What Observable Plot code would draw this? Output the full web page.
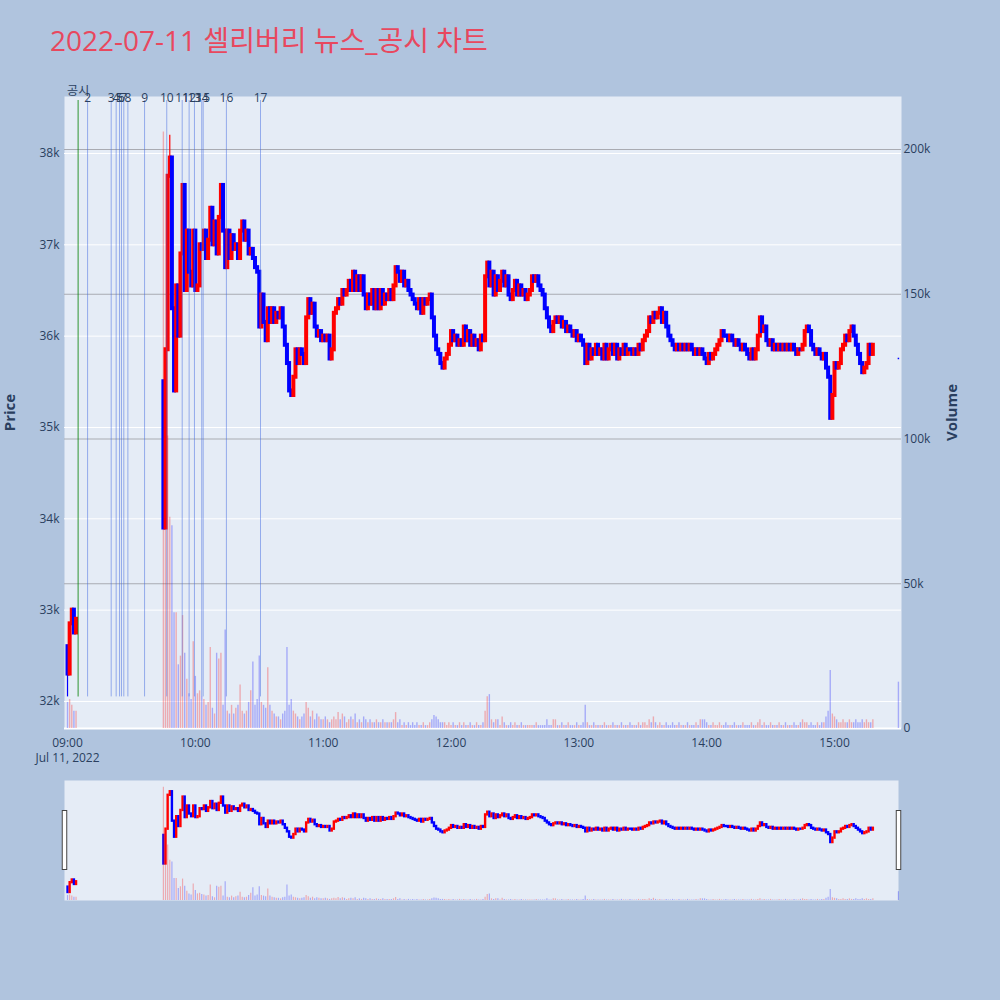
<!DOCTYPE html>
<html>
<head>
<meta charset="utf-8">
<script src="https://cdn.jsdelivr.net/npm/d3@7"></script>
<script src="https://cdn.jsdelivr.net/npm/@observablehq/plot@0.6"></script>
<style>
  body { margin: 0; background: #b0c4de; }
  #wrap { position: relative; width: 1000px; height: 1000px; background: #b0c4de; overflow: hidden;
          font-family: "Open Sans", Verdana, Arial, "Noto Sans CJK KR", sans-serif; }
  #title { position: absolute; left: 50px; top: 21px; font-size: 28px; line-height: 38px; color: #e8485e; white-space: nowrap; }
  .layer { position: absolute; left: 0; }
  .layer svg { display: block; }
  [aria-label="y-axis label"] text { font-weight: bold; font-size: 15px; }
</style>
</head>
<body>
<div id="wrap">
  <div id="title">2022-07-11 셀리버리 뉴스_공시 차트</div>
</div>
<script>
// ---- one-minute bars, 2022-07-11 ----
// opening minutes before the trading halt
const morningStart = "09:00";
const morningOpen = 32600;
const morningCloses = [32300, 32850, 33000, 32750, 32900];
const morningVolumes = [9, 10, 8, 6, 6]; // thousands of shares

// trading resumed at 09:45
const dayStart = "09:45";
const dayOpen = 35500;
const dayCloses = [
  33900, 35850, 37750, 37950, 36300, 35400, 36550, 36000, 36900, 37650,
  36500, 37150, 36700, 36550, 37150, 36500, 36550, 37000, 36950, 37150,
  36850, 37050, 37400, 37000, 37250, 36900, 37300, 37650, 37150, 36750,
  37150, 36850, 37100, 36950, 37000, 36850, 37150, 37250, 37050, 37150,
  36900, 36950, 36850, 36750, 36700, 36100, 36450, 36150, 35950, 36300,
  36150, 36300, 36150, 36250, 36200, 36300, 36100, 35900, 35700, 35400,
  35350, 35550, 35850, 35700, 35850, 35800, 35700, 36200, 36400, 36250,
  36350, 36100, 36000, 36050, 35950, 36000, 35950, 36000, 35750, 35850,
  36250, 36300, 36400, 36350, 36500, 36450, 36500, 36600, 36500, 36700,
  36500, 36650, 36500, 36650, 36450, 36300, 36450, 36350, 36500, 36300,
  36500, 36300, 36500, 36350, 36450, 36400, 36500, 36400, 36550, 36750,
  36700, 36600, 36700, 36550, 36600, 36500, 36450, 36400, 36350, 36300,
  36400, 36250, 36400, 36350, 36400, 36450, 36200, 36000, 35850, 35800,
  35700, 35650, 35750, 35800, 35900, 36050, 35950, 36000, 35900, 35950,
  35900, 36100, 35950, 36050, 35900, 36000, 35900, 35950, 35850, 36000,
  35950, 36650, 36800, 36550, 36700, 36450, 36650, 36500, 36600, 36700,
  36550, 36650, 36450, 36400, 36500, 36600, 36450, 36550, 36450, 36500,
  36400, 36450, 36500, 36650, 36600, 36650, 36550, 36500, 36450, 36300,
  36200, 36100, 36050, 36150, 36200, 36150, 36200, 36100, 36150, 36050,
  36100, 36050, 36000, 36050, 35950, 36000, 35950, 35900, 35700, 35900,
  35750, 35850, 35800, 35900, 35800, 35850, 35750, 35900, 35750, 35850,
  35900, 35800, 35900, 35750, 35850, 35800, 35900, 35800, 35850, 35850,
  35800, 35850, 35800, 35900, 35850, 35950, 36000, 36050, 36200, 36150,
  36250, 36200, 36250, 36300, 36150, 36250, 36100, 36000, 35950, 35900,
  35850, 35900, 35850, 35900, 35850, 35900, 35850, 35900, 35850, 35800,
  35850, 35800, 35850, 35800, 35750, 35700, 35800, 35750, 35800, 35850,
  35900, 35950, 36050, 36000, 36000, 35950, 36000, 35950, 35900, 35950,
  35900, 35850, 35900, 35850, 35800, 35750, 35850, 35750, 35850, 36000,
  36200, 36050, 36100, 35950, 35900, 35950, 35850, 35900, 35850, 35900,
  35850, 35900, 35850, 35900, 35850, 35900, 35850, 35800, 35850, 35850,
  35900, 36050, 36100, 36050, 35900, 35850, 35800, 35850, 35800, 35750,
  35800, 35650, 35550, 35100, 35350, 35700, 35650, 35700, 35850, 35900,
  36000, 35950, 36050, 36100, 36000, 35900, 35800, 35700, 35600, 35650,
  35700, 35900, 35800, 35900
];
const dayVolumes = [
  206, 100, 101, 73, 70, 40, 40, 22, 25, 39,
  26, 17, 12, 10, 30, 18, 12, 13, 11, 10,
  8, 9, 28, 7, 5, 26, 24, 26, 8, 34,
  6, 5, 8, 5, 7, 8, 15, 6, 5, 6,
  9, 13, 23, 8, 10, 25, 9, 8, 7, 21,
  8, 6, 5, 4, 4, 3, 5, 6, 28, 8,
  10, 6, 5, 4, 3, 4, 5, 9, 7, 4,
  6, 3, 5, 4, 3, 3, 4, 3, 2, 3,
  4, 3, 5.5, 3, 5, 4, 2, 3, 4, 3,
  5, 2, 3, 2, 4, 3, 2, 3, 2, 2,
  3, 2, 2, 3, 2, 2, 2, 2, 3, 5.5,
  2, 3, 1, 2, 1, 2, 1, 2, 1, 2,
  1, 1, 2, 1, 1, 2, 3, 4.5, 4, 3,
  2, 2, 2, 1, 2, 1, 2, 1, 1, 2,
  1, 2, 1, 1, 2, 1, 1, 2, 1, 1,
  2, 6, 11, 11.7, 3, 2, 3, 3, 1, 4,
  2, 1, 1, 2, 1, 2, 1, 1, 2, 1,
  1, 1, 1, 1, 1, 2, 1, 1, 1, 1,
  3, 1, 1, 3, 3, 1, 1, 2, 1, 1,
  2, 1, 1, 1, 2, 1, 1, 2, 8, 2,
  1, 1, 2, 1, 1, 1, 1, 2, 1, 1,
  1, 2, 1, 1, 1, 2, 1, 1, 1, 2,
  1, 1, 1, 2, 1, 2, 2, 1, 3, 2,
  4, 2, 1, 2, 1, 1, 2, 1, 1, 2,
  1, 1, 2, 1, 1, 1, 2, 1, 1, 1,
  2, 1, 3, 3, 3, 2, 1, 1, 2, 1,
  1, 2, 1, 1, 2, 1, 1, 1, 2, 1,
  1, 1, 2, 1, 1, 1, 2, 1, 1, 2,
  3, 1, 2, 1, 1, 2, 1, 1, 1, 2,
  1, 1, 2, 1, 1, 1, 2, 1, 1, 2,
  3, 2, 2, 1, 2, 1, 1, 2, 1, 2,
  2, 4, 6, 20, 5, 4, 3, 2, 2, 3,
  2, 2, 3, 2, 2, 3, 2, 2, 3, 2,
  3, 2, 2, 3
];

// closing auction print
const closeStart = "15:30";
const closeCloses = [35750];
const closeVolumes = [16];

// visible shadows: [time, low, high]
const wicks = [["09:00", 32050, 32600], ["09:48", 37750, 38200]];

// disclosure / news timestamps
const noticeLabels = ["공시", "2", "3", "4", "5", "6", "7", "8", "9", "10", "11", "12", "13", "14", "15", "16", "17"];
const noticeTimes = ["09:05:00", "09:09:25", "09:20:30", "09:22:50", "09:24:25", "09:25:20", "09:26:25", "09:28:20",
                     "09:36:10", "09:46:35", "09:53:50", "09:57:05", "09:59:35", "10:03:00", "10:03:40", "10:14:35", "10:30:35"];

const priceTicks = [32000, 33000, 34000, 35000, 36000, 37000, 38000];
const volumeTicks = [0, 50000, 100000, 150000, 200000];
const hourTicks = ["09:00", "10:00", "11:00", "12:00", "13:00", "14:00", "15:00"];

// ---- helpers ----
const at = (s) => { const [h, m, sec = 0] = s.split(":").map(Number); return new Date(2022, 6, 11, h, m, sec); };
function session(start, open, closes, vols, kind) {
  const t0 = +at(start);
  return closes.map((c, i) => ({
    time: new Date(t0 + i * 60000),
    open: i ? closes[i - 1] : open,
    close: c,
    volume: vols[i] * 1000,
    auction: kind === "auction"
  }));
}
const candles = [
  ...session(morningStart, morningOpen, morningCloses, morningVolumes),
  ...session(dayStart, dayOpen, dayCloses, dayVolumes),
  ...session(closeStart, closeCloses[0], closeCloses, closeVolumes, "auction")
];
candles.forEach((d, i) => {
  d.up = d.close > d.open;
  const prev = i ? candles[i - 1].close : d.open;
  d.volUp = d.close === prev ? d.up : d.close > prev;
});
const shadows = wicks.map(([t, lo, hi]) => {
  const time = at(t);
  const c = candles.find((d) => +d.time === +time);
  return {time, low: lo, high: hi, up: c ? c.up : true};
});
const notices = noticeLabels.map((label, i) => ({label, time: at(noticeTimes[i]), first: i === 0}));
const bars = candles.filter((d) => !d.auction);
const auction = candles.filter((d) => d.auction);

const up = "#ff0000", down = "#0000ff";
const font = '"Open Sans", Verdana, Arial, "Noto Sans CJK KR", sans-serif';
const ink = "#2a3f5f";

// shared frame
const W = 1000;
const mainBox = {width: W, height: 720, marginTop: 40, marginBottom: 48, marginLeft: 64, marginRight: 99};
const xDomain = [new Date(2022, 6, 11, 8, 58, 35), new Date(2022, 6, 11, 15, 31, 27)];
const priceDomain = [31704, 38624];
const volumeDomain = [0, 218300];
const noticeTop = 38580;
const noticeBottom = d3.min([...candles.map((d) => Math.min(d.open, d.close)), ...shadows.map((d) => d.low)]);

const baseStyle = {background: "transparent", fontFamily: font, fontSize: "12px", color: ink, overflow: "visible"};
const fmtHour = d3.timeFormat("%H:%M");

// layer 1: background, price grid and axes
const priceBase = Plot.plot({
  ...mainBox,
  style: baseStyle,
  x: {type: "time", domain: xDomain, axis: null},
  y: {domain: priceDomain, axis: null},
  marks: [
    Plot.frame({fill: "#e5ecf6", stroke: null}),
    Plot.ruleY(priceTicks, {stroke: "#ffffff", strokeWidth: 1}),
    Plot.axisX(hourTicks.map(at), {
      tickSize: 0, tickPadding: 8, lineHeight: 1.25, fill: ink, label: null,
      tickFormat: (d, i) => i === 0 ? fmtHour(d) + "\nJul 11, 2022" : fmtHour(d)
    }),
    Plot.axisY(priceTicks, {
      anchor: "left", tickSize: 0, tickPadding: 5, fill: ink,
      tickFormat: (d) => d / 1000 + "k",
      label: "Price", labelAnchor: "center", labelArrow: "none", labelOffset: 60
    })
  ]
});

// layer 2: volume grid, bars and right axis
const volumeLayer = Plot.plot({
  ...mainBox,
  style: baseStyle,
  x: {type: "time", domain: xDomain, axis: null},
  y: {domain: volumeDomain, axis: null},
  color: {type: "identity"},
  marks: [
    Plot.ruleY(volumeTicks.filter((v) => v > 0), {stroke: "#a9abb2", strokeWidth: 1.2}),
    Plot.ruleY([0], {stroke: "#ffffff", strokeWidth: 2}),
    Plot.ruleX(candles, {x: "time", y1: 0, y2: "volume", stroke: (d) => d.volUp ? up : down, strokeOpacity: 0.28, strokeWidth: 1.4}),
    Plot.axisY(volumeTicks, {
      anchor: "right", tickSize: 0, tickPadding: 2, fill: ink,
      tickFormat: (d) => d === 0 ? "0" : d / 1000 + "k",
      label: "Volume", labelAnchor: "center", labelArrow: "none", labelOffset: 55
    })
  ]
});

// layer 3: candles and disclosure markers
const priceMarks = Plot.plot({
  ...mainBox,
  style: baseStyle,
  x: {type: "time", domain: xDomain, axis: null},
  y: {domain: priceDomain, axis: null},
  color: {type: "identity"},
  marks: [
    Plot.ruleX(shadows, {x: "time", y1: "low", y2: "high", stroke: (d) => d.up ? up : down, strokeWidth: 1.2}),
    Plot.ruleX(bars, {x: "time", y1: "open", y2: "close", stroke: (d) => d.up ? up : down, strokeWidth: 4, strokeLinecap: "square"}),
    Plot.ruleX(auction, {x: "time", y1: "open", y2: "close", stroke: (d) => d.up ? up : down, strokeWidth: 1.5, strokeLinecap: "square"}),
    Plot.ruleX(notices.filter((d) => !d.first), {x: "time", y1: noticeBottom, y2: noticeTop, stroke: "royalblue", strokeOpacity: 0.5, strokeWidth: 1}),
    Plot.ruleX(notices.filter((d) => d.first), {x: "time", y1: noticeBottom, y2: noticeTop, stroke: "green", strokeOpacity: 0.5, strokeWidth: 1.6}),
    Plot.text(notices.filter((d) => !d.first), {x: "time", text: "label", frameAnchor: "top", dy: -3, fill: ink, fontSize: 12}),
    Plot.text(notices.filter((d) => d.first), {x: "time", text: "label", frameAnchor: "top", dy: -10, fill: ink, fontSize: 12})
  ]
});

// range slider: miniature of the whole session
const sliderBox = {width: W, height: 120, marginTop: 0, marginBottom: 0, marginLeft: 64, marginRight: 102};
const sliderDomain = [xDomain[0], new Date(2022, 6, 11, 15, 30, 2)];
const sliderPrice = Plot.plot({
  ...sliderBox,
  style: baseStyle,
  x: {type: "time", domain: sliderDomain, axis: null},
  y: {domain: [31850, 38580], axis: null},
  color: {type: "identity"},
  marks: [
    Plot.frame({fill: "#e5ecf6", stroke: null}),
    Plot.ruleX(bars, {x: "time", y1: "open", y2: "close", stroke: (d) => d.up ? up : down, strokeWidth: 2.4, strokeLinecap: "square"})
  ]
});
const sliderVolume = Plot.plot({
  ...sliderBox,
  style: baseStyle,
  x: {type: "time", domain: sliderDomain, axis: null},
  y: {domain: volumeDomain, axis: null},
  color: {type: "identity"},
  marks: [
    Plot.ruleX(candles, {x: "time", y1: 0, y2: "volume", stroke: (d) => d.volUp ? up : down, strokeOpacity: 0.28, strokeWidth: 1.2}),
    Plot.ruleX(sliderDomain, {x: (d) => d, insetTop: 30, insetBottom: 30, stroke: "#444444", strokeWidth: 5.5}),
    Plot.ruleX(sliderDomain, {x: (d) => d, insetTop: 31, insetBottom: 31, stroke: "#ffffff", strokeWidth: 3.5})
  ]
});

const wrap = document.getElementById("wrap");
function place(svg, top) {
  const div = document.createElement("div");
  div.className = "layer";
  div.style.top = top + "px";
  div.appendChild(svg);
  wrap.appendChild(div);
}
place(priceBase, 56);
place(volumeLayer, 56);
place(priceMarks, 56);
place(sliderPrice, 780);
place(sliderVolume, 780);
</script>
</body>
</html>
